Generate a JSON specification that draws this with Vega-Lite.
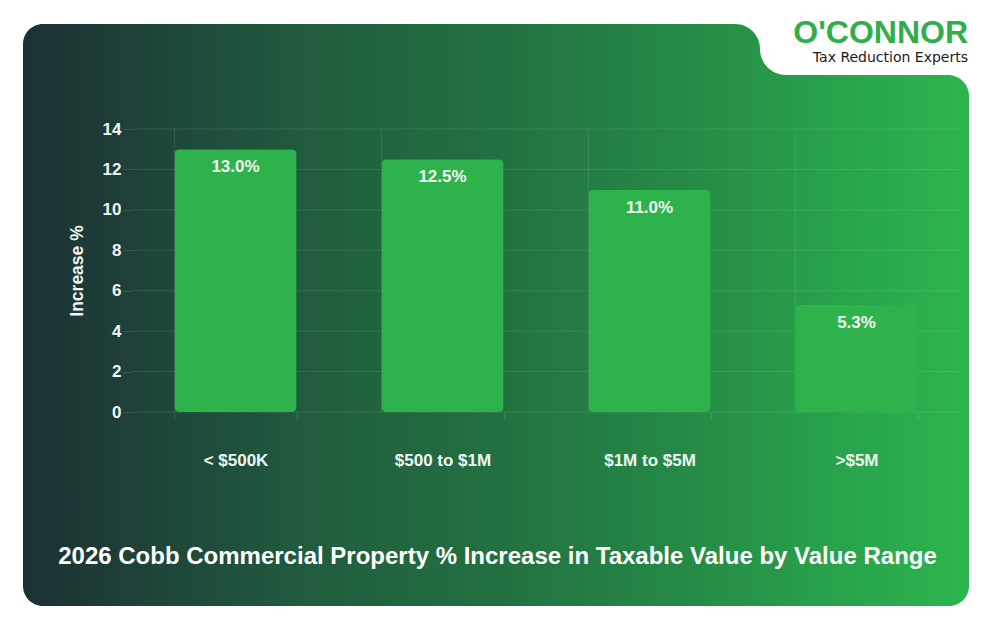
{
  "$schema": "https://vega.github.io/schema/vega-lite/v6.json",
  "width": 828,
  "height": 283,
  "autosize": {"type": "none"},
  "padding": {"left": 132, "top": 129, "right": 34, "bottom": 220},
  "background": "#ffffff",
  "config": {"view": {"stroke": null}, "font": "Liberation Sans"},
  "title": {
    "text": "O'CONNOR",
    "subtitle": "Tax Reduction Experts",
    "orient": "top",
    "anchor": "end",
    "frame": "group",
    "font": "Liberation Sans",
    "fontSize": 32,
    "fontWeight": "bold",
    "color": "#2fae4b",
    "subtitleFont": "DejaVu Sans",
    "subtitleFontSize": 14,
    "subtitleColor": "#1a1a1a",
    "subtitlePadding": 1,
    "offset": -66,
    "dx": 8
  },
  "datasets": {
    "ranges": [
      {"range": "< $500K", "pct": 13.0},
      {"range": "$500 to $1M", "pct": 12.5},
      {"range": "$1M to $5M", "pct": 11.0},
      {"range": ">$5M", "pct": 5.3}
    ],
    "levels": [
      {"level": 0}, {"level": 2}, {"level": 4}, {"level": 6},
      {"level": 8}, {"level": 10}, {"level": 12}, {"level": 14}
    ]
  },
  "layer": [
    {
      "data": {"values": [{}]},
      "mark": {
        "type": "rect",
        "x": -109, "x2": 837, "y": -54, "y2": 477,
        "cornerRadiusTopRight": 21,
        "cornerRadiusBottomLeft": 20,
        "cornerRadiusBottomRight": 20,
        "fill": {
          "gradient": "linear", "x1": 0, "y1": 0, "x2": 1, "y2": 0,
          "stops": [
            {"offset": 0, "color": "#1c3033"},
            {"offset": 0.12, "color": "#1e4239"},
            {"offset": 0.3, "color": "#205c3d"},
            {"offset": 0.5, "color": "#227041"},
            {"offset": 0.7, "color": "#258a46"},
            {"offset": 0.85, "color": "#28a14b"},
            {"offset": 1, "color": "#2cb54d"}
          ]
        }
      },
      "encoding": {}
    },
    {
      "data": {"values": [{}]},
      "mark": {
        "type": "rect",
        "x": -109, "x2": 628, "y": -105, "y2": 0,
        "cornerRadiusTopLeft": 20,
        "cornerRadiusTopRight": 25,
        "fill": {
          "gradient": "linear", "x1": 0, "y1": 0, "x2": 1.2836, "y2": 0,
          "stops": [
            {"offset": 0, "color": "#1c3033"},
            {"offset": 0.12, "color": "#1e4239"},
            {"offset": 0.3, "color": "#205c3d"},
            {"offset": 0.5, "color": "#227041"},
            {"offset": 0.7, "color": "#258a46"},
            {"offset": 0.85, "color": "#28a14b"},
            {"offset": 1, "color": "#2cb54d"}
          ]
        }
      },
      "encoding": {}
    },
    {
      "data": {"values": [{}]},
      "mark": {
        "type": "rect",
        "x": 627, "x2": 656, "y": -81, "y2": -53,
        "fill": "#27984a"
      },
      "encoding": {}
    },
    {
      "data": {"values": [{}]},
      "mark": {
        "type": "rect",
        "x": 628, "x2": 700, "y": -129, "y2": -54,
        "cornerRadiusBottomLeft": 26,
        "fill": "#ffffff"
      },
      "encoding": {}
    },
    {
      "data": {"name": "levels"},
      "mark": {"type": "rule", "color": "#ffffff", "opacity": 0.1, "strokeWidth": 1},
      "encoding": {
        "y": {"field": "level", "type": "quantitative"}
      }
    },
    {
      "data": {"name": "ranges"},
      "mark": {"type": "rule", "color": "#ffffff", "opacity": 0.1, "strokeWidth": 1},
      "encoding": {
        "x": {"field": "range", "type": "nominal", "sort": null, "bandPosition": 0}
      }
    },
    {
      "data": {"name": "ranges"},
      "mark": {"type": "bar", "cornerRadius": 5, "fill": "#2eb34c"},
      "encoding": {
        "x": {
          "field": "range",
          "type": "nominal",
          "sort": null,
          "scale": {"paddingInner": 0.41, "paddingOuter": 0.205},
          "axis": {
            "title": "2026 Cobb Commercial Property % Increase in Taxable Value by Value Range",
            "titleX": 365,
            "titleY": 151,
            "titleAlign": "center",
            "titleBaseline": "alphabetic",
            "titleFontSize": 24,
            "titleFontWeight": "bold",
            "titleColor": "#ffffff",
            "titleFont": "Liberation Sans",
            "labelAngle": 0,
            "labelAlign": "center",
            "labelFont": "Liberation Sans",
            "labelFontSize": 17,
            "labelFontWeight": "bold",
            "labelColor": "#f2f6f2",
            "labelPadding": 40,
            "tickBand": "extent",
            "tickSize": 8,
            "tickColor": "rgba(255,255,255,0.12)",
            "domain": false,
            "grid": false,
            "zindex": 1
          }
        },
        "y": {
          "field": "pct",
          "type": "quantitative",
          "scale": {"domain": [0, 14], "nice": false},
          "axis": {
            "title": "Increase %",
            "values": [0, 2, 4, 6, 8, 10, 12, 14],
            "labelFont": "Liberation Sans",
            "labelFontSize": 17,
            "labelFontWeight": "bold",
            "labelColor": "#f2f6f2",
            "labelPadding": 2,
            "tickSize": 9,
            "tickColor": "rgba(255,255,255,0.12)",
            "domain": false,
            "grid": false,
            "titleFont": "Liberation Sans",
            "titleFontSize": 17.5,
            "titleFontWeight": "bold",
            "titleColor": "#f2f6f2",
            "titlePadding": 16,
            "zindex": 1
          }
        }
      }
    },
    {
      "data": {"name": "ranges"},
      "transform": [{"calculate": "format(datum.pct, '.1f') + '%'", "as": "label"}],
      "mark": {
        "type": "text",
        "baseline": "top",
        "dy": 10,
        "font": "Liberation Sans",
        "fontSize": 17,
        "fontWeight": "bold",
        "color": "#f4f8f4"
      },
      "encoding": {
        "x": {"field": "range", "type": "nominal", "sort": null},
        "y": {"field": "pct", "type": "quantitative"},
        "text": {"field": "label"}
      }
    }
  ]
}
